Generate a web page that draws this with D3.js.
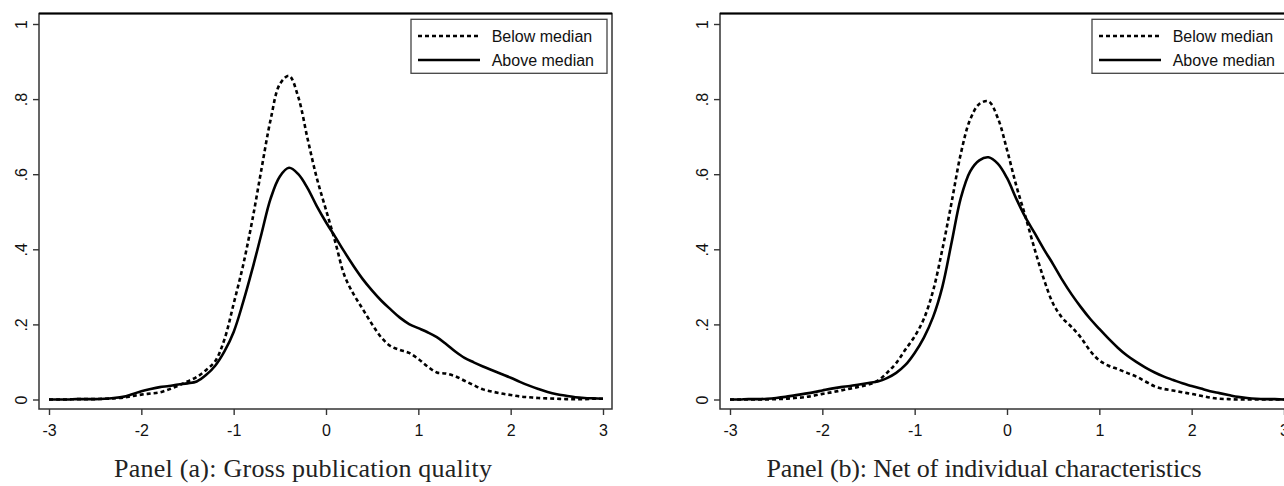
<!DOCTYPE html>
<html>
<head>
<meta charset="utf-8">
<script src="https://cdn.jsdelivr.net/npm/d3@7"></script>
<style>
	body { margin: 0; background: #fff; }
	#svgcontainer { width: 1284px; height: 486px; overflow: hidden; }
</style>
</head>
<body>
<div id="svgcontainer"></div>
<script>
// density estimates, one value per grid point
var xGrid = [-3.0,-2.9,-2.8,-2.7,-2.6,-2.5,-2.4,-2.3,-2.2,-2.1,
	-2.0,-1.9,-1.8,-1.7,-1.6,-1.5,-1.4,-1.3,-1.2,-1.1,
	-1.0,-0.9,-0.8,-0.7,-0.6,-0.5,-0.4,-0.3,-0.2,-0.1,
	0.0,0.1,0.2,0.3,0.4,0.5,0.6,0.7,0.8,0.9,
	1.0,1.1,1.2,1.3,1.4,1.5,1.6,1.7,1.8,1.9,
	2.0,2.1,2.2,2.3,2.4,2.5,2.6,2.7,2.8,2.9,3.0];

var panelA_below = [0,0,0,0.001,0.001,0.001,0.002,0.003,0.005,0.009,
	0.013,0.016,0.019,0.027,0.037,0.048,0.060,0.078,0.102,0.160,
	0.255,0.355,0.475,0.612,0.745,0.840,0.862,0.805,0.695,0.590,
	0.505,0.420,0.330,0.280,0.240,0.200,0.165,0.142,0.132,0.124,
	0.108,0.088,0.072,0.069,0.062,0.050,0.038,0.027,0.021,0.016,
	0.012,0.008,0.006,0.004,0.003,0.002,0.001,0.001,0.001,0.002,0.002];

var panelA_above = [0,0,0,0.001,0.001,0.001,0.002,0.004,0.007,0.014,
	0.022,0.028,0.033,0.036,0.040,0.043,0.048,0.065,0.090,0.128,
	0.180,0.257,0.345,0.440,0.535,0.594,0.617,0.600,0.563,0.515,
	0.472,0.433,0.393,0.355,0.320,0.290,0.263,0.240,0.218,0.201,
	0.190,0.179,0.166,0.148,0.128,0.111,0.099,0.088,0.078,0.068,
	0.058,0.047,0.037,0.028,0.020,0.014,0.010,0.006,0.004,0.003,0.002];

var panelB_below = [0,0,0,0,0,0.001,0.002,0.004,0.006,0.010,
	0.015,0.019,0.024,0.029,0.034,0.040,0.050,0.071,0.097,0.133,
	0.168,0.215,0.290,0.400,0.525,0.655,0.745,0.787,0.794,0.750,
	0.665,0.570,0.487,0.400,0.320,0.255,0.217,0.193,0.165,0.130,
	0.104,0.090,0.081,0.071,0.061,0.048,0.035,0.028,0.024,0.019,
	0.015,0.010,0.005,0.002,0.001,0,0,0,0,0,0];

var panelB_above = [0,0,0.001,0.001,0.002,0.004,0.007,0.011,0.015,0.019,
	0.024,0.029,0.033,0.036,0.040,0.044,0.048,0.057,0.071,0.092,
	0.124,0.165,0.220,0.300,0.418,0.537,0.607,0.637,0.645,0.628,
	0.590,0.535,0.485,0.443,0.400,0.360,0.318,0.280,0.246,0.215,
	0.188,0.162,0.138,0.117,0.100,0.085,0.072,0.061,0.052,0.043,
	0.036,0.029,0.022,0.017,0.012,0.007,0.004,0.002,0.001,0.001,0];

var xTicks = [-3,-2,-1,0,1,2,3];
var yTicks = [0,0.2,0.4,0.6,0.8,1];
var yTickLabels = ["0",".2",".4",".6",".8","1"];
var legendLabels = ["Below median","Above median"];
var captions = ["Panel (a): Gross publication quality","Panel (b): Net of individual characteristics"];
var captionWidths = [378, 435];

var DensityPanels = function(){
	var svg;
	var plotW = 573, top = 13.5, bottom = 409;

	var init = function(){
		svg = d3.select("#svgcontainer").append("svg")
			.attr("width", 1284)
			.attr("height", 486);

		drawPanel(39, panelA_below, panelA_above, 0);
		drawPanel(720, panelB_below, panelB_above, 1);
	};

	var drawPanel = function(ox, below, above, idx){
		var x = d3.scaleLinear().domain([-3, 3]).range([ox + 10, ox + 564]);
		var y = d3.scaleLinear().domain([0, 1]).range([399.5, 24]);
		var g = svg.append("g");

		// plot region frame
		g.append("rect")
			.attr("x", ox).attr("y", top)
			.attr("width", plotW).attr("height", bottom - top)
			.style("fill", "none")
			.style("stroke", "#333")
			.style("stroke-width", 1.5);
		g.append("line")
			.attr("x1", ox).attr("x2", ox + plotW)
			.attr("y1", top).attr("y2", top)
			.style("stroke", "#000").style("stroke-width", 2);

		var yAxis = g.append("g")
			.attr("transform", "translate(" + ox + ",0)")
			.call(d3.axisLeft(y).tickValues(yTicks).tickSize(6)
				.tickFormat(function(d, i){ return yTickLabels[i]; }));
		var xAxis = g.append("g")
			.attr("transform", "translate(0," + bottom + ")")
			.call(d3.axisBottom(x).tickValues(xTicks).tickSize(6)
				.tickFormat(function(d){ return d; }));

		[yAxis, xAxis].forEach(function(a){
			a.select(".domain").remove();
			a.selectAll("line").style("stroke", "#333").style("stroke-width", 1.4);
			a.selectAll("text")
				.style("font-family", "'Liberation Sans', Arial, sans-serif")
				.style("font-size", "16px")
				.style("fill", "#111");
		});
		yAxis.selectAll("text")
			.attr("transform", "rotate(-90)")
			.attr("x", 0).attr("y", -12.5).attr("dy", 0)
			.style("text-anchor", "middle");
		xAxis.selectAll("text")
			.attr("y", 26.5).attr("dy", 0);

		var line = d3.line()
			.x(function(d, i){ return x(xGrid[i]); })
			.y(function(d){ return y(d); })
			.curve(d3.curveCatmullRom.alpha(0.5));

		g.append("path").datum(below)
			.attr("d", line)
			.style("fill", "none").style("stroke", "#000")
			.style("stroke-width", 2.6)
			.style("stroke-dasharray", "4,3");
		g.append("path").datum(above)
			.attr("d", line)
			.style("fill", "none").style("stroke", "#000")
			.style("stroke-width", 2.6);

		drawLegend(g, ox + 372, 19.3);

		g.append("text")
			.attr("x", ox + 264).attr("y", 477)
			.attr("textLength", captionWidths[idx])
			.attr("lengthAdjust", "spacing")
			.style("text-anchor", "middle")
			.style("font-family", "'Liberation Serif', 'Times New Roman', serif")
			.style("font-size", "26px")
			.style("fill", "#222")
			.text(captions[idx]);
	};

	var drawLegend = function(g, lx, ly){
		var lg = g.append("g").attr("transform", "translate(" + lx + "," + ly + ")");
		lg.append("rect")
			.attr("width", 196).attr("height", 54)
			.style("fill", "#fff").style("stroke", "#444").style("stroke-width", 1.3);
		legendLabels.forEach(function(lab, i){
			lg.append("line")
				.attr("x1", 7).attr("x2", 69)
				.attr("y1", 16.7 + i * 24).attr("y2", 16.7 + i * 24)
				.style("stroke", "#000").style("stroke-width", 2.6)
				.style("stroke-dasharray", i == 0 ? "4,3" : null);
			lg.append("text")
				.attr("x", 80.7).attr("y", 22.3 + i * 24)
				.style("font-family", "'Liberation Sans', Arial, sans-serif")
				.style("font-size", "16px")
				.style("fill", "#111")
				.text(lab);
		});
	};

	return { init: init };
};

var app = new DensityPanels();
app.init();
</script>
</body>
</html>
